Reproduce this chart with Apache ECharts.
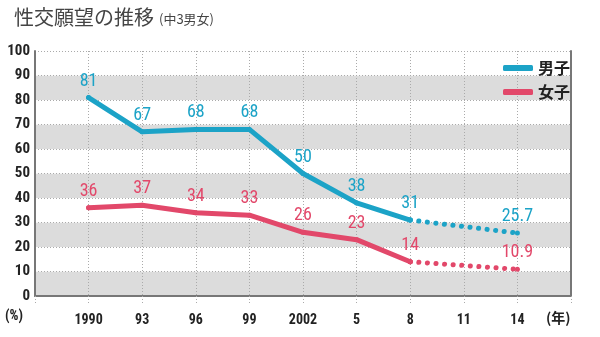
<!DOCTYPE html>
<html><head><meta charset="utf-8">
<script src="https://cdn.jsdelivr.net/npm/echarts@6/dist/echarts.min.js"></script>
<style>html,body{margin:0;padding:0;background:#fff}#c{width:600px;height:337px}</style>
</head><body><div id="c"></div>
<script>
const years = [1990, 1993, 1996, 1999, 2002, 2005, 2008];
const boys = [81, 67, 68, 68, 50, 38, 31];
const girls = [36, 37, 34, 33, 26, 23, 14];
const projYears = [2008, 2014];
const boysProj = [31, 25.7];
const girlsProj = [14, 10.9];
const yTicks = [0,10,20,30,40,50,60,70,80,90,100];
const xTickLabels = {1990:'1990',1993:'93',1996:'96',1999:'99',2002:'2002',2005:'5',2008:'8',2011:'11',2014:'14'};

const BLUE = '#1ca3c7', RED = '#e2486a';
const NUM = '"Roboto Condensed","DejaVu Sans Condensed",sans-serif';
const JP = '"Noto Sans CJK JP",sans-serif';
const pair = (xs, ys) => xs.map((x, i) => [x, ys[i]]);

const chart = echarts.init(document.getElementById('c'), null, {renderer: 'canvas'});
const labelBase = {show: true, position: 'top', distance: 5, fontFamily: NUM, fontSize: 18};
const sym = c => ({symbol: 'circle', symbolSize: 5, showSymbol: true, itemStyle: {color: c}});
const option = {
  animation: false,
  title: {
    left: 9, top: 2,
    text: '{a|性交願望の推移} {b|(中3男女)}',
    textStyle: {rich: {
      a: {fontSize: 20, fontWeight: 'normal', color: '#444', fontFamily: JP},
      b: {fontSize: 13, fontWeight: 'normal', color: '#444', fontFamily: JP, padding: [4, 0, 0, 0]}
    }}
  },
  legend: {
    orient: 'vertical', left: 498, top: 55, itemGap: 8,
    itemWidth: 30, itemHeight: 6, icon: 'roundRect',
    data: ['男子', '女子'],
    textStyle: {fontSize: 16, fontWeight: 'bold', color: '#222', fontFamily: JP}
  },
  grid: {left: 35, right: 29, top: 51, bottom: 41},
  xAxis: {
    type: 'value', min: 1987, max: 2017, interval: 3,
    axisLine: {show: true, lineStyle: {color: '#777', width: 2}},
    axisTick: {show: true, length: 9, lineStyle: {color: '#aaa', type: [1, 2]}},
    splitLine: {show: true, lineStyle: {color: '#aaa', type: [1, 2]}},
    axisLabel: {
      margin: 17, fontSize: 14, fontWeight: 'bold', color: '#222', fontFamily: NUM,
      formatter: v => xTickLabels[v] || ''
    }
  },
  yAxis: [{
    type: 'value', min: 0, max: 100, interval: 10,
    axisLine: {show: true, lineStyle: {color: '#777', width: 2}},
    axisTick: {show: false},
    splitLine: {show: true, lineStyle: {color: '#aaa', type: [1, 2]}},
    splitArea: {show: true, areaStyle: {color: ['#dcdcdc', '#ffffff']}},
    axisLabel: {margin: 5, fontSize: 15, fontWeight: 'bold', color: '#222', fontFamily: NUM,
      formatter: v => yTicks.includes(v) ? String(v) : ''}
  }, {
    type: 'value', min: 0, max: 100, interval: 10, position: 'right',
    axisLine: {show: true, lineStyle: {color: '#777', width: 2}},
    axisTick: {show: false}, axisLabel: {show: false}, splitLine: {show: false}
  }],
  series: [
    Object.assign({name: '男子', type: 'line', data: pair(years, boys), color: BLUE,
      lineStyle: {width: 5, color: BLUE, cap: 'round', join: 'round'},
      label: Object.assign({color: BLUE, formatter: p => String(p.value[1])}, labelBase)}, sym(BLUE)),
    Object.assign({name: '女子', type: 'line', data: pair(years, girls), color: RED,
      lineStyle: {width: 5, color: RED, cap: 'round', join: 'round'},
      label: Object.assign({color: RED, formatter: p => String(p.value[1])}, labelBase)}, sym(RED)),
    Object.assign({name: '男子予', type: 'line', data: pair(projYears, boysProj),
      lineStyle: {width: 5, color: BLUE, type: [0.1, 8.5], cap: 'round'},
      label: Object.assign({color: BLUE, formatter: p => p.dataIndex === 1 ? String(p.value[1]) : ''}, labelBase)}, sym(BLUE)),
    Object.assign({name: '女子予', type: 'line', data: pair(projYears, girlsProj),
      lineStyle: {width: 5, color: RED, type: [0.1, 8.5], cap: 'round'},
      label: Object.assign({color: RED, formatter: p => p.dataIndex === 1 ? String(p.value[1]) : ''}, labelBase)}, sym(RED))
  ],
  graphic: [
    {type: 'text', left: 5, top: 309, style: {text: '(%)', fontSize: 14, fontWeight: 'bold', fill: '#222', fontFamily: NUM}},
    {type: 'text', left: 546, top: 311, style: {text: '(年)', fontSize: 14, fontWeight: 'bold', fill: '#222', fontFamily: JP}}
  ]
};
chart.setOption(option);
</script></body></html>
